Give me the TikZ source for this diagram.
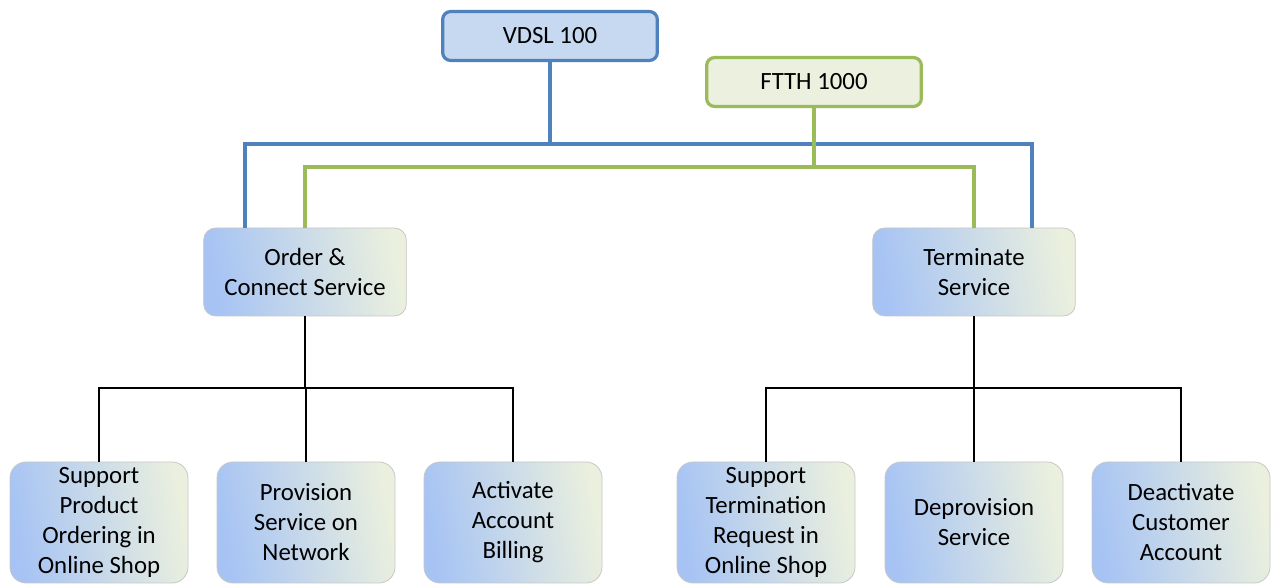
\documentclass[tikz,border=0pt]{standalone}
\usepackage{fontspec}
\setmainfont{Carlito}
\usepackage{tikz}
\usetikzlibrary{positioning, calc, shadows}
\definecolor{vdslblue}{HTML}{4F81BD}
\definecolor{vdslfill}{HTML}{C6D9F1}
\definecolor{ftthgreen}{HTML}{9BBB59}
\definecolor{ftthfill}{HTML}{EBF1DE}
\definecolor{gradleft}{HTML}{A6C3F4}
\definecolor{gradright}{HTML}{EBF0DE}

\begin{document}
\begin{tikzpicture}[x=0.75pt, y=-0.75pt,
  every node/.style={font=\fontsize{18.6}{22.5}\selectfont, align=center},
  product/.style={rounded corners=6pt, line width=2.4pt, minimum width=161pt, minimum height=36.75pt},
  process/.style={rounded corners=9pt, draw=black!22, line width=0.6pt, left color=gradleft, right color=gradright, shading angle=100},
  midbox/.style={process, minimum width=152pt, minimum height=66pt},
  leafbox/.style={process, rounded corners=12pt, minimum width=133.5pt, minimum height=90.75pt},
  blueline/.style={vdslblue, line width=2.4pt},
  greenline/.style={ftthgreen, line width=2.4pt},
  treeline/.style={black, line width=1.6pt}]
\useasboundingbox (0,0) rectangle (1272,584);

% products
\node[product, draw=vdslblue, fill=vdslfill] (vdsl) at (550,36) {VDSL 100};
\node[product, draw=ftthgreen, fill=ftthfill] (ftth) at (814,82) {FTTH 1000};

% processes
\node[midbox] (order) at (305,272) {Order \&\\Connect Service};
\node[midbox] (term) at (974,272) {Terminate\\Service};

% sub processes
\node[leafbox] (shop) at (99,522.5) {Support\\Product\\Ordering in\\Online Shop};
\node[leafbox] (prov) at (306,522.5) {Provision\\Service on\\Network};
\node[leafbox] (bill) at (513,522.5) {Activate\\Account\\Billing};
\node[leafbox] (req) at (766,522.5) {Support\\Termination\\Request in\\Online Shop};
\node[leafbox] (deprov) at (974,522.5) {Deprovision\\Service};
\node[leafbox] (deact) at (1181,522.5) {Deactivate\\Customer\\Account};

% blue bus
\coordinate (busB) at (550,144);
\draw[blueline] (vdsl.south) -- (busB);
\draw[blueline] ($(order.north)+(-60,0)$) |- (busB) -| ($(term.north)+(58,0)$);

% green bus
\coordinate (busG) at (814,167);
\draw[greenline] (ftth.south) -- (busG);
\draw[greenline] (order.north) |- (busG) -| (term.north);

% tree
\coordinate (busO) at (305,388);
\coordinate (busT) at (974,388);
\draw[treeline] (order.south) -- (busO);
\draw[treeline] (shop.north) |- (busO) -| (bill.north);
\draw[treeline] (prov.north) -- (prov.north |- busO);
\draw[treeline] (term.south) -- (busT);
\draw[treeline] (req.north) |- (busT) -| (deact.north);
\draw[treeline] (deprov.north) -- (busT);
\end{tikzpicture}
\end{document}
